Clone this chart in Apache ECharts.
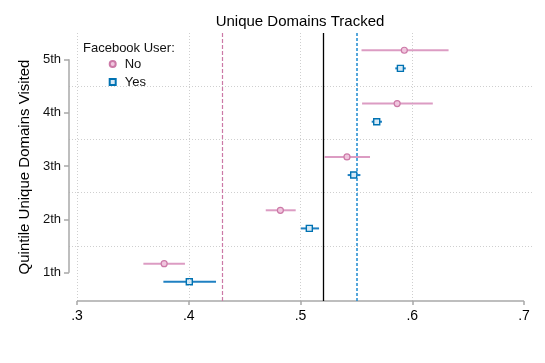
<!DOCTYPE html>
<html>
<head>
<meta charset="utf-8">
<script src="https://cdn.jsdelivr.net/npm/echarts@6/dist/echarts.min.js"></script>
<style>
  html, body { margin: 0; padding: 0; background: #fff; }
  #chart { width: 545px; height: 363px; }
</style>
</head>
<body>
<div id="chart"></div>
<script>
// quintiles on the y axis, bottom to top
const quintiles = ['1th', '2th', '3th', '4th', '5th'];
const xTicks = [0.3, 0.4, 0.5, 0.6, 0.7];

// Facebook User = No
const noMean = [0.378, 0.482, 0.5416, 0.5865, 0.5929];
const noLow = [0.3594, 0.4689, 0.5216, 0.5551, 0.5546];
const noHigh = [0.3966, 0.4957, 0.5622, 0.6184, 0.6325];

// Facebook User = Yes
const yesMean = [0.4005, 0.5079, 0.5476, 0.5682, 0.5894];
const yesLow = [0.3773, 0.5002, 0.5422, 0.5637, 0.5848];
const yesHigh = [0.4244, 0.5166, 0.5536, 0.5729, 0.5942];

// reference lines
const noAverage = 0.4345;
const overallAverage = 0.5178;
const yesAverage = 0.5454;

let chartDom = document.getElementById('chart');
let chart = echarts.init(chartDom, null, { renderer: 'canvas' });

const font = '"Liberation Sans", Arial, Helvetica, sans-serif';
const pink = '#cc79a7';
const blue = '#0072b2';
const xMin = 0.3 - 8 / 1117.5;
const xMax = 0.7 + 8 / 1117.5;
const yMin = 1 - 28.3 / 53.35;
const yMax = 5 + 26.3 / 53.35;
const rowShift = 0.17;

function ciData(lo, hi, shift) {
  return lo.map((v, i) => [v, hi[i], i + 1 + shift]);
}
function pointData(mean, shift) {
  return mean.map((v, i) => [v, i + 1 + shift]);
}
function ciRender(color) {
  return function (params, api) {
    const a = api.coord([api.value(0), api.value(2)]);
    const b = api.coord([api.value(1), api.value(2)]);
    return {
      type: 'line',
      shape: { x1: a[0], y1: a[1], x2: b[0], y2: b[1] },
      style: { stroke: color, lineWidth: 2 }
    };
  };
}

const gridStyle = { color: '#cfcfcf', type: [1, 2], width: 1 };
const axisStyle = { color: '#a8a8a8', type: 'solid', width: 1.5 };

let option = {
  animation: false,
  backgroundColor: '#fff',
  textStyle: { fontFamily: font },
  title: [
    {
      text: 'Unique Domains Tracked',
      left: 300,
      top: 14,
      textAlign: 'center',
      padding: 0,
      textStyle: { fontFamily: font, fontSize: 15, fontWeight: 'normal', color: '#000' }
    },
    {
      text: 'Facebook User:',
      left: 83,
      top: 41.5,
      padding: 0,
      textStyle: { fontFamily: font, fontSize: 13, fontWeight: 'normal', color: '#111', lineHeight: 13 }
    }
  ],
  legend: {
    orient: 'vertical',
    left: 70,
    top: 38,
    padding: [19.5, 30, 5.5, 38.7],
    backgroundColor: '#fff',
    itemWidth: 6,
    itemHeight: 6,
    itemGap: 5,
    selectedMode: false,
    textStyle: { fontFamily: font, fontSize: 13, color: '#111', lineHeight: 13, padding: [0, 0, 0, 4] },
    data: [
      { name: 'No', icon: 'circle' },
      { name: 'Yes', icon: 'rect' }
    ]
  },
  grid: { left: 69, right: 13, top: 33, bottom: 62 },
  xAxis: {
    type: 'value',
    min: xMin,
    max: xMax,
    axisLine: { show: false },
    splitLine: { show: false },
    axisTick: { show: true, length: 4, customValues: xTicks, lineStyle: { color: '#a8a8a8', width: 1.5 } },
    axisLabel: {
      customValues: xTicks,
      margin: 8,
      fontSize: 14,
      color: '#000',
      fontFamily: font,
      formatter: v => '.' + Math.round(v * 10)
    }
  },
  yAxis: {
    type: 'value',
    min: yMin,
    max: yMax,
    name: 'Quintile Unique Domains Visited',
    nameLocation: 'middle',
    nameGap: 33,
    nameRotate: 90,
    nameTextStyle: { fontFamily: font, fontSize: 15, color: '#000' },
    axisLine: { show: false },
    splitLine: { show: false },
    axisTick: { show: true, length: 5, customValues: [1, 2, 3, 4, 5], lineStyle: { color: '#a8a8a8', width: 1.5 } },
    axisLabel: {
      customValues: [1, 2, 3, 4, 5],
      margin: 8,
      fontSize: 13,
      color: '#111',
      fontFamily: font,
      formatter: v => quintiles[Math.round(v) - 1]
    }
  },
  series: [
    {
      name: 'frame',
      type: 'line',
      data: [],
      z: 1,
      silent: true,
      markLine: {
        silent: true,
        symbol: 'none',
        animation: false,
        label: { show: false },
        data: [
          { xAxis: 0.3, lineStyle: gridStyle },
          { xAxis: 0.4, lineStyle: gridStyle },
          { xAxis: 0.5, lineStyle: gridStyle },
          { xAxis: 0.6, lineStyle: gridStyle },
          { yAxis: 1.5, lineStyle: gridStyle },
          { yAxis: 2.5, lineStyle: gridStyle },
          { yAxis: 3.5, lineStyle: gridStyle },
          { yAxis: 4.5, lineStyle: gridStyle },
          [{ coord: [0.3, yMin], lineStyle: axisStyle }, { coord: [0.7, yMin] }],
          [{ coord: [xMin, 1], lineStyle: axisStyle }, { coord: [xMin, 5] }]
        ]
      }
    },
    {
      name: 'refs',
      type: 'line',
      data: [],
      z: 2,
      silent: true,
      markLine: {
        silent: true,
        symbol: 'none',
        animation: false,
        label: { show: false },
        data: [
          { xAxis: noAverage, lineStyle: { color: pink, type: [4, 2], width: 1.2 } },
          { xAxis: overallAverage, lineStyle: { color: '#000', type: 'solid', width: 1.3 } },
          { xAxis: yesAverage, lineStyle: { color: '#1f8ad0', type: [3, 2], width: 1.5 } }
        ]
      }
    },
    {
      name: 'No CI',
      type: 'custom',
      z: 3,
      renderItem: ciRender('#dc9cc3'),
      encode: { x: [0, 1], y: 2 },
      data: ciData(noLow, noHigh, rowShift)
    },
    {
      name: 'Yes CI',
      type: 'custom',
      z: 3,
      renderItem: ciRender('#1f80c2'),
      encode: { x: [0, 1], y: 2 },
      data: ciData(yesLow, yesHigh, -rowShift)
    },
    {
      name: 'No',
      type: 'scatter',
      z: 4,
      symbol: 'circle',
      symbolSize: 6,
      itemStyle: { color: '#f0c6de', borderColor: pink, borderWidth: 1.2, opacity: 1 },
      data: pointData(noMean, rowShift)
    },
    {
      name: 'Yes',
      type: 'scatter',
      z: 4,
      symbol: 'rect',
      symbolSize: 6,
      itemStyle: { color: '#d6e9f6', borderColor: blue, borderWidth: 1.4, opacity: 1 },
      data: pointData(yesMean, -rowShift)
    }
  ]
};

option && chart.setOption(option);
</script>
</body>
</html>
